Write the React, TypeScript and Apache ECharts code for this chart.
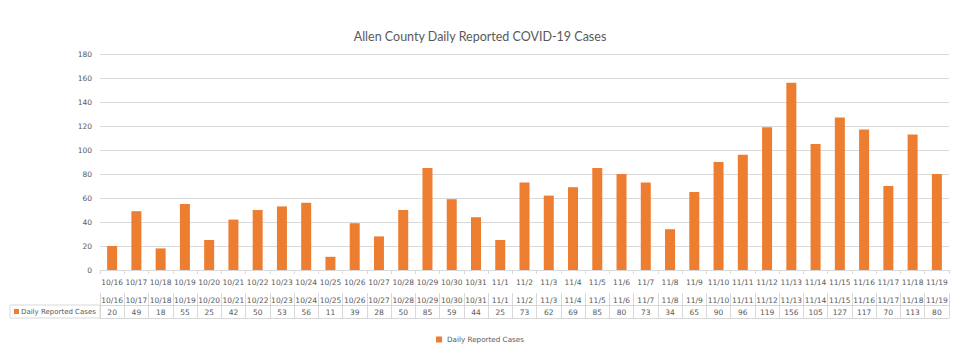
import React, { useEffect, useRef } from "react";
import * as echarts from "echarts";

const categories = [
  "10/16", "10/17", "10/18", "10/19", "10/20", "10/21", "10/22", "10/23", "10/24", "10/25",
  "10/26", "10/27", "10/28", "10/29", "10/30", "10/31", "11/1", "11/2", "11/3", "11/4",
  "11/5", "11/6", "11/7", "11/8", "11/9", "11/10", "11/11", "11/12", "11/13", "11/14",
  "11/15", "11/16", "11/17", "11/18", "11/19",
];
const dailyCases = [
  20, 49, 18, 55, 25, 42, 50, 53, 56, 11, 39, 28, 50, 85, 59, 44, 25, 73, 62, 69,
  85, 80, 73, 34, 65, 90, 96, 119, 156, 105, 127, 117, 70, 113, 80,
];
const yTicks = { min: 0, max: 180, interval: 20 };
const seriesName = "Daily Reported Cases";
const titleText = "Allen County Daily Reported COVID-19 Cases";

const TEXT = "#595959";
const LINE = "#d9d9d9";
const ORANGE = "#ED7D31";
const FONT = "Verdana, 'DejaVu Sans', sans-serif";

export default function App() {
  const ref = useRef<HTMLDivElement>(null);
  useEffect(() => {
    if (!ref.current) return;
    const chart = echarts.init(ref.current, undefined, { renderer: "svg" });
    const labelStyle = { color: TEXT, fontSize: 7.5, fontFamily: FONT };
    chart.setOption({
      animation: false,
      backgroundColor: "#ffffff",
      title: {
        text: titleText,
        left: "center",
        top: 25,
        textStyle: { color: TEXT, fontSize: 12.5, fontWeight: "normal", fontFamily: "Lato, 'Open Sans', sans-serif" },
      },
      legend: {
        bottom: 11,
        left: "center",
        icon: "rect",
        itemWidth: 6,
        itemHeight: 6,
        itemGap: 4,
        textStyle: { ...labelStyle, fontSize: 7.2 },
        data: [seriesName],
      },
      grid: { left: 100, right: 11, top: 54, bottom: 89, containLabel: false },
      xAxis: [
        {
          type: "category",
          position: "bottom",
          data: categories,
          axisLine: { lineStyle: { color: LINE } },
          axisTick: { show: true, length: 4, lineStyle: { color: LINE }, interval: 0 },
          axisLabel: { ...labelStyle, margin: 8, interval: 0 },
        },
        {
          type: "category",
          position: "bottom",
          data: categories,
          offset: 23,
          axisLine: { show: false },
          axisTick: { show: true, length: 25, lineStyle: { color: LINE }, interval: 0 },
          axisLabel: { ...labelStyle, margin: 3, interval: 0 },
        },
        {
          type: "category",
          position: "bottom",
          data: dailyCases.map(String),
          offset: 35,
          axisLine: { show: true, lineStyle: { color: LINE } },
          axisTick: { show: false },
          axisLabel: { ...labelStyle, margin: 3, interval: 0 },
        },
        {
          type: "category",
          position: "bottom",
          data: categories,
          offset: 48,
          axisLine: { show: true, lineStyle: { color: LINE } },
          axisTick: { show: false },
          axisLabel: { show: false },
        },
      ],
      yAxis: {
        type: "value",
        min: yTicks.min,
        max: yTicks.max,
        interval: yTicks.interval,
        axisLine: { show: false },
        axisTick: { show: false },
        splitLine: { lineStyle: { color: LINE } },
        axisLabel: { ...labelStyle, margin: 8 },
      },
      graphic: [
        {
          type: "rect",
          shape: { x: 10, y: 305, width: 90, height: 13 },
          style: { fill: "none", stroke: LINE, lineWidth: 1 },
        },
        {
          type: "rect",
          shape: { x: 14, y: 309, width: 5, height: 5 },
          style: { fill: ORANGE },
        },
        {
          type: "text",
          x: 21,
          y: 311.5,
          style: { text: seriesName, fill: TEXT, fontSize: 7, fontFamily: FONT, verticalAlign: "middle" },
        },
      ],
      series: [
        {
          name: seriesName,
          type: "bar",
          xAxisIndex: 0,
          data: dailyCases,
          barWidth: 10,
          itemStyle: { color: ORANGE },
        },
      ],
    });
    return () => chart.dispose();
  }, []);
  return (
    <div
      ref={ref}
      style={{ position: "fixed", left: 0, top: 0, width: 960, height: 359 }}
    />
  );
}
